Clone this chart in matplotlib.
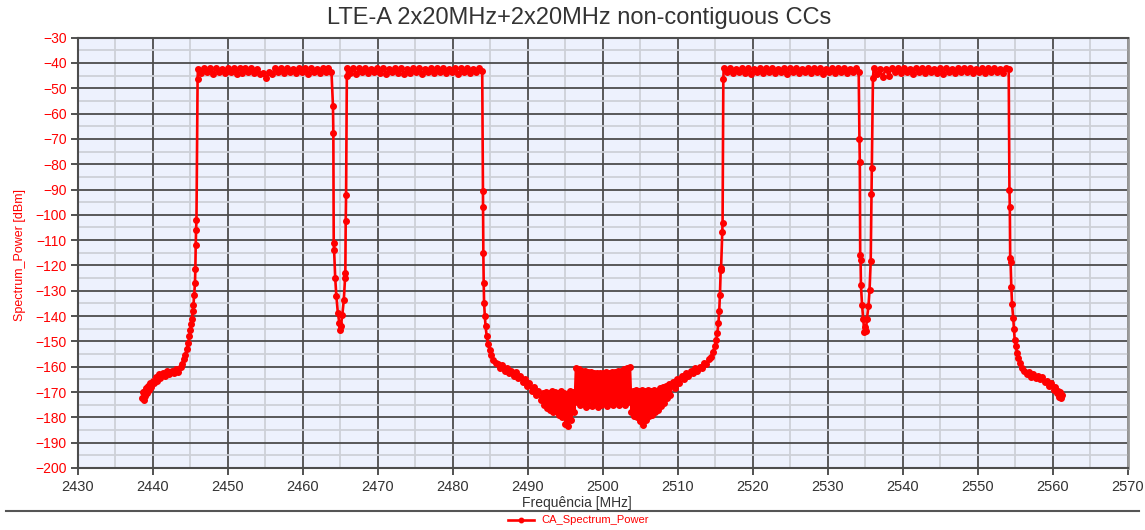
import numpy as np
import matplotlib
matplotlib.use("Agg")
import matplotlib.pyplot as plt
from matplotlib.lines import Line2D
from matplotlib.ticker import MultipleLocator

plt.rcParams["font.family"] = ["Liberation Sans", "DejaVu Sans"]

# ---- data (MHz, dBm) ----
# left skirt + rising edge of CC1
skirt_l_f = [2438.6, 2438.7, 2438.8, 2438.9, 2439.0, 2439.1, 2439.2, 2439.35, 2439.5, 2439.65,
             2439.8, 2440.0, 2440.2, 2440.4, 2440.6, 2440.8, 2441.0, 2441.3, 2441.6, 2441.9,
             2442.2, 2442.5, 2442.8, 2443.1, 2443.4, 2443.7, 2443.9, 2444.1, 2444.3, 2444.5,
             2444.7, 2444.85, 2445.0, 2445.1, 2445.2, 2445.3, 2445.4, 2445.5, 2445.6, 2445.65,
             2445.7, 2445.75, 2445.8, 2445.95]
skirt_l_p = [-172.5, -170.0, -173.0, -169.5, -171.5, -168.5, -170.5, -167.5, -169.0, -166.5,
             -168.0, -165.5, -166.5, -164.0, -165.5, -163.0, -164.5, -162.5, -163.5, -161.8,
             -163.0, -161.5, -162.5, -161.0, -162.0, -160.0, -159.0, -157.0, -155.5, -153.0,
             -150.5, -148.0, -145.5, -143.0, -141.0, -138.0, -135.5, -131.5, -127.0, -121.5,
             -112.0, -106.0, -102.0, -46.5]

# flat tops of the four component carriers
cc1_range = (2446.0, 2463.8)
cc1_top = [-42.5, -44.0, -42.0, -43.5, -42.0, -44.5, -42.0, -43.5, -42.5, -44.0,
           -41.8, -43.5, -42.0, -44.5, -42.0, -44.0, -42.0, -43.5, -42.0, -44.0,
           -42.5, -44.5, -44.0, -46.0, -43.5, -44.5, -42.0, -43.5, -42.0, -44.0,
           -42.0, -43.5, -42.5, -44.0, -41.8, -43.5, -42.0, -44.5, -42.0, -43.5,
           -42.5, -44.0, -42.0, -43.5, -42.0, -43.5]
cc2_range = (2465.9, 2483.9)
cc2_top = [-42.0, -44.0, -42.0, -44.5, -42.0, -43.5, -42.0, -44.0, -42.5, -43.5,
           -42.0, -44.0, -42.0, -44.5, -42.5, -43.5, -42.0, -44.0, -42.0, -44.5,
           -42.5, -44.0, -42.0, -43.5, -42.0, -44.5, -42.5, -43.5, -42.0, -44.0,
           -42.0, -43.5, -42.0, -44.0, -42.5, -43.5, -42.0, -44.5, -42.0, -43.5,
           -42.0, -44.0, -42.5, -43.5, -42.0, -43.0]
cc3_range = (2516.1, 2534.1)
cc3_top = [-42.0, -43.5, -42.0, -44.0, -42.5, -43.5, -42.0, -44.0, -42.0, -44.5,
           -42.5, -43.5, -42.0, -44.0, -42.0, -43.5, -42.0, -44.0, -42.5, -43.5,
           -42.0, -44.5, -42.0, -43.5, -42.0, -44.0, -42.5, -43.5, -42.0, -44.0,
           -42.0, -43.5, -42.0, -44.5, -42.5, -43.5, -42.0, -44.0, -42.0, -43.5,
           -42.0, -44.0, -42.5, -43.5, -42.0, -43.5]
cc4_range = (2536.1, 2554.1)
cc4_top = [-42.0, -44.5, -42.5, -45.5, -42.5, -45.0, -42.0, -43.5, -42.0, -44.0,
           -42.0, -43.5, -42.5, -44.5, -42.0, -43.5, -42.0, -44.0, -42.0, -43.5,
           -42.5, -44.0, -42.0, -44.5, -42.0, -43.5, -42.5, -44.0, -42.0, -43.5,
           -42.0, -43.5, -42.0, -44.0, -42.5, -43.5, -42.0, -44.0, -42.0, -43.5,
           -42.0, -43.5, -42.5, -44.0, -42.0, -42.5]

# gap between CC1 and CC2
notch1_f = [2464.0, 2464.05, 2464.1, 2464.15, 2464.3, 2464.45, 2464.65, 2464.85, 2464.95,
            2465.05, 2465.25, 2465.45, 2465.6, 2465.65, 2465.7, 2465.75, 2465.85]
notch1_p = [-57.0, -67.5, -111.0, -113.7, -125.0, -132.0, -138.7, -142.7, -145.3,
            -144.0, -139.4, -133.5, -125.0, -123.0, -102.6, -92.3, -45.0]

# falling edge of CC2 and the noise floor between the two carrier pairs
middle_f = [2484.0, 2484.02, 2484.05, 2484.1, 2484.15, 2484.25, 2484.35, 2484.5, 2484.7, 2484.9,
            2485.1, 2485.4, 2485.7, 2486.0, 2486.3, 2486.6, 2486.9, 2487.2, 2487.5, 2487.8,
            2488.1, 2488.4, 2488.7, 2489.0, 2489.3, 2489.6, 2489.9, 2490.2, 2490.5, 2490.8,
            2491.1, 2491.4, 2491.7,
            2492.0, 2492.2, 2492.4, 2492.6, 2492.8, 2493.0, 2493.2, 2493.4, 2493.6, 2493.8,
            2494.0, 2494.2, 2494.4, 2494.6, 2494.8, 2495.0, 2495.2, 2495.4, 2495.6, 2495.8,
            2496.0, 2496.2,
            2496.4, 2496.6, 2496.8, 2497.0, 2497.2, 2497.4, 2497.6, 2497.8, 2498.0, 2498.2,
            2498.4, 2498.6, 2498.8, 2499.0, 2499.2, 2499.4, 2499.6, 2499.8, 2500.0, 2500.2,
            2500.4, 2500.6, 2500.8, 2501.0, 2501.2, 2501.4, 2501.6, 2501.8, 2502.0, 2502.2,
            2502.4, 2502.6, 2502.8, 2503.0, 2503.2, 2503.4, 2503.6,
            2503.8, 2504.0, 2504.2, 2504.4, 2504.6, 2504.8, 2505.0, 2505.2, 2505.4, 2505.6,
            2505.8, 2506.0, 2506.2, 2506.4, 2506.6, 2506.8, 2507.0, 2507.2, 2507.4, 2507.6,
            2507.8, 2508.0, 2508.2, 2508.4, 2508.6, 2508.8, 2509.0,
            2509.3, 2509.6, 2509.9, 2510.2, 2510.5, 2510.8, 2511.1, 2511.4, 2511.7, 2512.0,
            2512.3, 2512.6, 2512.9, 2513.2, 2513.5, 2513.8, 2514.1, 2514.4, 2514.7, 2514.9,
            2515.1, 2515.25, 2515.4, 2515.5, 2515.6, 2515.7, 2515.75, 2515.9, 2515.95, 2516.05]
middle_p = [-90.7, -96.9, -115.0, -126.9, -134.8, -140.0, -144.0, -148.0, -151.0, -153.5,
            -155.5, -157.2, -158.5, -159.0, -160.5, -159.5, -161.5, -160.5, -162.5, -161.5,
            -163.5, -162.0, -164.5, -163.5, -166.0, -165.0, -167.5, -166.5, -169.5, -168.0,
            -171.0, -169.5, -173.0,
            -170.5, -175.0, -170.0, -176.5, -170.5, -177.0, -169.5, -178.0, -170.0, -177.5,
            -170.5, -179.0, -169.5, -180.0, -170.5, -182.5, -171.0, -183.5, -169.5, -181.0,
            -170.0, -178.0,
            -160.5, -174.0, -161.0, -175.0, -161.5, -174.5, -161.5, -176.0, -162.0, -175.0,
            -162.0, -175.5, -162.5, -174.5, -162.5, -176.0, -162.5, -175.0, -162.5, -174.0,
            -162.0, -175.5, -162.5, -174.5, -162.0, -175.0, -162.0, -174.0, -161.5, -175.0,
            -161.5, -174.5, -161.0, -175.0, -160.5, -174.0, -160.0,
            -178.0, -169.5, -179.5, -169.0, -180.0, -169.5, -181.5, -169.0, -183.0, -169.5,
            -181.0, -169.0, -179.5, -169.5, -179.0, -169.0, -178.0, -169.5, -177.0, -168.5,
            -175.5, -168.0, -174.5, -167.5, -172.5, -167.0, -171.0,
            -166.0, -168.5, -165.0, -166.5, -163.5, -165.0, -162.5, -163.5, -161.5, -162.5,
            -160.5, -161.5, -160.0, -160.5, -158.5, -159.0, -157.0, -156.0, -154.0, -152.0,
            -149.5, -146.6, -142.7, -138.1, -131.5, -121.6, -121.0, -106.9, -103.2, -46.5]

# gap between CC3 and CC4
notch2_f = [2534.2, 2534.25, 2534.3, 2534.35, 2534.4, 2534.55, 2534.7, 2534.85, 2534.95,
            2535.05, 2535.2, 2535.4, 2535.55, 2535.7, 2535.8, 2535.85, 2536.0]
notch2_p = [-70.0, -79.3, -115.7, -118.0, -127.8, -135.7, -141.1, -146.4, -144.5,
            -146.0, -141.0, -136.1, -129.5, -118.4, -91.8, -81.5, -46.0]

# falling edge of CC4 + right skirt
skirt_r_f = [2554.2, 2554.25, 2554.3, 2554.35, 2554.45, 2554.55, 2554.7, 2554.8, 2554.9, 2555.05,
             2555.2, 2555.4, 2555.6, 2555.9, 2556.2, 2556.5, 2556.8, 2557.1, 2557.4, 2557.7,
             2558.0, 2558.3, 2558.6, 2558.9, 2559.2, 2559.5, 2559.8, 2560.1, 2560.3, 2560.5,
             2560.7, 2560.85, 2561.0, 2561.1, 2561.2]
skirt_r_p = [-90.1, -96.9, -117.0, -118.7, -128.5, -135.4, -140.7, -145.0, -149.3, -152.0,
             -154.5, -156.5, -158.5, -160.5, -161.5, -163.0, -162.0, -164.0, -163.0, -164.5,
             -163.5, -165.0, -164.0, -166.0, -165.5, -167.5, -166.5, -169.0, -168.0, -170.5,
             -169.5, -172.0, -170.0, -172.5, -171.0]

freq = np.concatenate([
    skirt_l_f,
    np.linspace(*cc1_range, len(cc1_top)),
    notch1_f,
    np.linspace(*cc2_range, len(cc2_top)),
    middle_f,
    np.linspace(*cc3_range, len(cc3_top)),
    notch2_f,
    np.linspace(*cc4_range, len(cc4_top)),
    skirt_r_f,
])
power = np.concatenate([skirt_l_p, cc1_top, notch1_p, cc2_top, middle_p,
                        cc3_top, notch2_p, cc4_top, skirt_r_p])

red = "#ff0000"
dark = "#333333"

fig = plt.figure(figsize=(11.45, 5.3), dpi=100)
ax = fig.add_axes([0.0681, 0.117, 0.917, 0.812])
ax.set_facecolor("#edf1fd")

line, = ax.plot(freq, power, color=red, lw=1.9, marker="o", ms=4,
                mec=red, mfc=red, label="CA_Spectrum_Power")

ax.set_xlim(2430, 2570)
ax.set_ylim(-200, -30)
ax.xaxis.set_major_locator(MultipleLocator(10))
ax.xaxis.set_minor_locator(MultipleLocator(5))
ax.yaxis.set_major_locator(MultipleLocator(10))
ax.yaxis.set_minor_locator(MultipleLocator(5))
ax.grid(which="major", color="#4d4d4d", lw=1.3)
ax.grid(which="minor", color="#cdd0d8", lw=1.3)
ax.set_axisbelow(True)

ax.tick_params(axis="y", which="major", labelcolor=red, color=dark, length=5,
               width=1.2, labelsize=10, pad=3)
ax.tick_params(axis="x", which="major", labelcolor=dark, color=dark, length=5,
               width=1.2, labelsize=10.5, pad=4)
ax.tick_params(which="minor", length=0)

for side in ["left", "bottom", "top"]:
    ax.spines[side].set_color("#4d4d4d")
    ax.spines[side].set_linewidth(1.5)
ax.spines["right"].set_color("#9a9a9a")
ax.spines["right"].set_linewidth(2)

fig.text(0.5057, 0.966, "LTE-A 2x20MHz+2x20MHz non-contiguous CCs",
         ha="center", va="center", fontsize=17, color=dark)
fig.text(0.0175, 0.519, "Spectrum_Power [dBm]", rotation=90,
         ha="center", va="center", fontsize=9, color=red)
fig.text(0.504, 0.051, "Frequência [MHz]", ha="center", va="center",
         fontsize=10, color=dark)

# separator above the legend
fig.add_artist(Line2D([0.005, 0.995], [0.0358, 0.0358], transform=fig.transFigure,
                      color="#555555", lw=1.5))

fig.legend(handles=[line], loc="center", bbox_to_anchor=(0.505, 0.018),
           frameon=False, fontsize=8, labelcolor=red, handlelength=2.4,
           handletextpad=0.6, borderpad=0, markerscale=0.8)

fig.savefig("out.png", dpi=100)
